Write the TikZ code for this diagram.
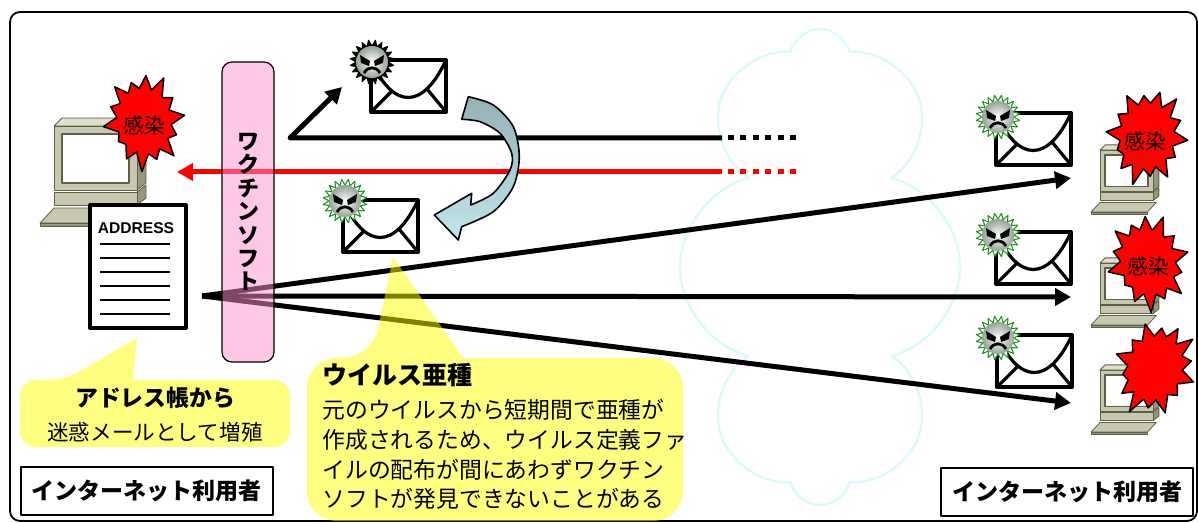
\documentclass[tikz,border=0pt]{standalone}
\usepackage{fontspec}
\setmainfont{Noto Sans CJK JP}
\newfontfamily\latinsans{Liberation Sans}
\usepackage{tikz}
\usetikzlibrary{arrows.meta}
\usetikzlibrary{shapes.symbols}
\usetikzlibrary{positioning}

\definecolor{pcface}{RGB}{200,200,176}
\definecolor{pctop}{RGB}{222,222,204}
\definecolor{pcside}{RGB}{150,150,122}
\definecolor{pcedge}{RGB}{95,95,72}
\definecolor{barpink}{RGB}{255,145,205}
\definecolor{noteyellow}{RGB}{255,255,0}
\definecolor{cloudline}{RGB}{218,250,252}
\definecolor{bendtop}{RGB}{148,176,182}
\definecolor{bendbottom}{RGB}{192,230,236}
\definecolor{germgreen}{RGB}{30,140,30}
\definecolor{germball}{RGB}{150,162,150}

\tikzset{
  pics/oldpc/.style={code={
    \filldraw[fill=pctop, draw=pcedge] (0,0) -- (8,-8) -- (92,-8) -- (83,0) -- cycle;
    \filldraw[fill=pcside, draw=pcedge] (83,0) -- (92,-8) -- (92,57) -- (83,64) -- cycle;
    \filldraw[fill=pcface, draw=pcedge] (0,0) rectangle (83,64);
    \filldraw[fill=white, draw=pcedge, line width=0.8pt] (8,8) rectangle (75,57);
    \filldraw[fill=pcside, draw=pcedge] (83,66) -- (92,59) -- (92,72) -- (83,79) -- cycle;
    \filldraw[fill=pcface, draw=pcedge] (0,66) rectangle (83,79);
    \filldraw[fill=pcface, draw=pcedge] (0,82) -- (88,82) -- (74,97) -- (-14,97) -- cycle;
    \filldraw[fill=pcside, draw=pcedge] (-14,97) -- (74,97) -- (74,100) -- (-14,100) -- cycle;
  }},
  pics/mail/.style={code={
    \filldraw[fill=white, line width=2pt] (0,0) rectangle (75,52);
    \draw[line width=1.6pt] (0,0) .. controls (22,50) and (52,50) .. (75,0);
    \draw[line width=1.6pt] (0,52) -- (21,31) (75,52) -- (56,29);
  }},
  pics/germ/.style={code={
    \filldraw[#1, line width=0.5pt] (0:16)
      \foreach \k in {0,...,19}{ -- ({\k*18+9}:22) -- ({\k*18+18}:16) } -- cycle;
    \shade[inner color=white, outer color=germball] (-3,-4) circle [radius=0.1]
      (0,0) circle [radius=16];
    \fill (-12,-7) -- (-2,-1) -- (-3,4) -- (-11,1) -- cycle;
    \fill (12,-7) -- (2,-1) -- (3,4) -- (11,1) -- cycle;
    \draw[line width=1.4pt] (-8,11) .. controls (-4,4) and (4,4) .. (8,11);
  }},
  pics/burst/.style={code={
    \filldraw[fill=red, draw=black, line width=0.75pt]
      ({27*cos(-12.857)},{33*sin(-12.857)})
      \foreach \r [count=\i from 0] in {1,.82,.97,.8,1,.88,.76,1,.84,.95,.8,.9,1,.86}{
        -- ({41*\r*cos(\i*25.714)},{51*\r*sin(\i*25.714)})
        -- ({27*cos(\i*25.714+12.857)},{33*sin(\i*25.714+12.857)}) }
      -- cycle;
  }},
  blackspikes/.style={fill=black, draw=black},
  greenspikes/.style={fill=white, draw=germgreen},
  note/.style={fill=noteyellow, fill opacity=0.5},
}

\begin{document}
\begin{tikzpicture}[x=0.5pt, y=-0.5pt,
      line join=round,
      thickline/.style={line width=2.5pt},
      sendtip/.style={-{Triangle[length=8pt,width=8.5pt]}},
      tailline/.style={line width=2.5pt, dash pattern=on 3pt off 3.2pt},
      burstlabel/.style={font=\fontsize{10.4pt}{12pt}\selectfont},
      usertag/.style={draw, fill=white, line width=0.8pt,
        minimum width=126pt, minimum height=24pt,
        font=\bfseries\fontsize{11.5pt}{13pt}\selectfont}]

    \useasboundingbox (0,0) rectangle (1198,523);

    \node[cloud, cloud puffs=8, cloud ignores aspect, draw=cloudline,
      line width=1.2pt, minimum width=140pt, minimum height=238pt]
      (net) at (820,267) {};
    \draw[line width=0.9pt, rounded corners=5pt] (10,12) rectangle (1197,521);

    % sender
    \pic at (54,126) {oldpc};
    \pic[rotate=8] at (144,121) {burst};
    \node[burstlabel] (burst) at (144,126) {感染};
    \node[draw, line width=2pt, fill=white, inner sep=0pt,
      minimum width=48pt, minimum height=61.5pt]
      (addrbook) at (138,266.5) {};
    \node[font=\latinsans\bfseries\fontsize{7.8pt}{9pt}\selectfont]
      (addrlabel) at (136,228) {ADDRESS};
    \foreach \y in {244,258,...,314}
      \draw[line width=0.7pt] (100,\y) -- (170,\y);

    \coordinate (fork) at (290,138);
    \coordinate (leak) at (342,87);
    \coordinate (blackend) at (722,138);
    \coordinate (redend) at (722,172);
    \coordinate (back) at (177,172);
    \coordinate (spread) at (202,296);
    \coordinate (hit1) at (1071,178);
    \coordinate (hit2) at (1071,297);
    \coordinate (hit3) at (1071,403);

    \draw[thickline, sendtip] (blackend) -- (fork) -- (leak);
    \draw[tailline] (728,138) -- (796,138);
    \draw[thickline, red, sendtip] (redend) -- (back);
    \draw[tailline, red] (728,172) -- (796,172);
    \draw[thickline, sendtip] (spread) -- (hit1);
    \draw[thickline, sendtip] (spread) -- (hit2);
    \draw[thickline, sendtip] (spread) -- (hit3);

    \shadedraw[top color=bendtop, bottom color=bendbottom, draw=black, line width=0.8pt]
      plot[smooth] coordinates {(461.7,119.3) (480,121.7) (500,133.3) (511.7,153.3)
        (510,170) (493.3,193.3) (470.7,205)}
      -- (471.7,193.3) -- (434.3,215) -- (458.3,240)
      -- plot[smooth] coordinates {(461.7,226.7) (493.3,211.7) (513.3,186.7)
        (519.3,156.7) (513.3,126.7) (493.3,105) (468.3,96.7)}
      -- cycle;

    \pic at (371,60) {mail};
    \pic at (372,62) {germ=blackspikes};
    \pic at (343,200) {mail};
    \pic at (345,201) {germ=greenspikes};

    \node[draw=black, line width=0.6pt, fill=barpink, fill opacity=0.5,
      text opacity=1, rounded corners=5pt, inner sep=0pt,
      minimum width=26pt, minimum height=150pt, align=center,
      font=\bfseries\fontsize{11pt}{11.7pt}\selectfont]
      (vaccine) at (248,212) {ワ\\ク\\チ\\ン\\ソ\\フ\\ト};

    % callouts
    \fill[note, rounded corners=8pt] (20,447) -- (20,380) -- (65,380)
      [sharp corners] -- (137,338) -- (133,380)
      [rounded corners=8pt] -- (290,380) -- (290,447) -- cycle;
    \node[font=\bfseries\fontsize{11.4pt}{13pt}\selectfont]
      (bookhead) at (155,398) {アドレス帳から};
    \node[font=\fontsize{10.8pt}{13pt}\selectfont]
      (booktext) at (155,432) {迷惑メールとして増殖};

    \fill[note, rounded corners=15pt] (307,521) -- (307,358) -- (372,358)
      [sharp corners] -- (393,257) -- (463,358)
      [rounded corners=15pt] -- (683,358) -- (683,521) -- cycle;
    \node[anchor=west, inner sep=0pt,
      font=\bfseries\fontsize{12.5pt}{14pt}\selectfont]
      (varianthead) at (322,375) {ウイルス亜種};
    \node[anchor=north west, align=left, inner sep=0pt,
      font=\fontsize{11.4pt}{14.85pt}\selectfont]
      (varianttext) at (322,399)
      {元のウイルスから短期間で亜種が\\
       作成されるため、ウイルス定義ファ\\
       イルの配布が間にあわずワクチン\\
       ソフトが発見できないことがある};

    \node[usertag] (userleft) at (147,491) {インターネット利用者};
    \node[usertag] (userright) at (1067,492) {インターネット利用者};

    % receivers
    \pic at (996,113) {mail};
    \pic at (998,117) {germ=greenspikes};
    \pic at (996,232) {mail};
    \pic at (998,235) {germ=greenspikes};
    \pic at (997,335) {mail};
    \pic at (998,338) {germ=greenspikes};

    \pic[scale=0.64] at (1100,150) {oldpc};
    \pic[rotate=-6] at (1147,136) {burst};
    \node[burstlabel] (burst1) at (1145,142) {感染};
    \pic[scale=0.64] at (1100,263) {oldpc};
    \pic[rotate=14] at (1148,262) {burst};
    \node[burstlabel] (burst2) at (1148,267) {感染};
    \pic[scale=0.64] at (1100,370) {oldpc};
    \pic[rotate=-20] at (1155,368) {burst};

  \end{tikzpicture}
\end{document}
